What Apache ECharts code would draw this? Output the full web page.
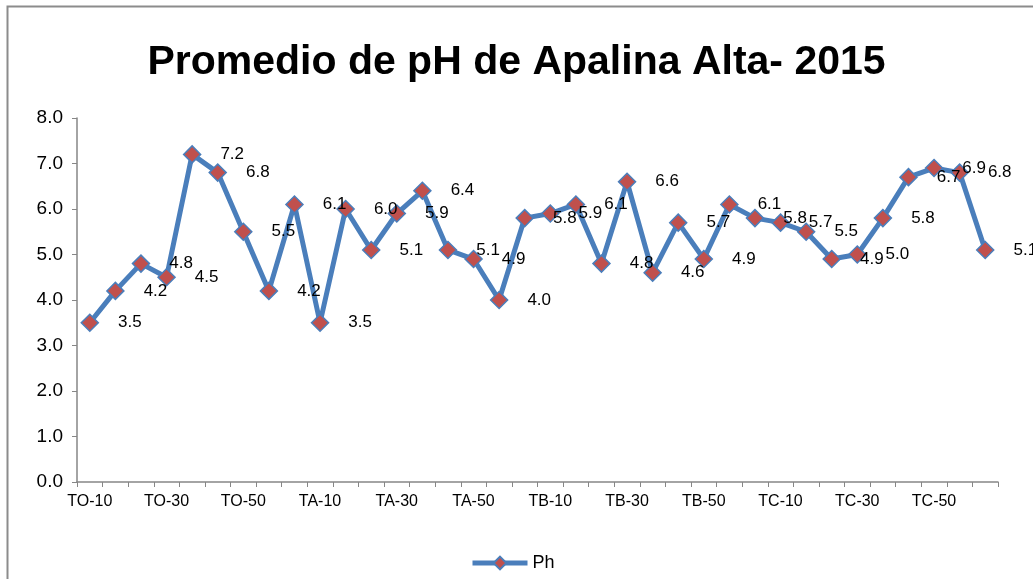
<!DOCTYPE html>
<html>
<head>
<meta charset="utf-8">
<script src="https://cdn.jsdelivr.net/npm/echarts@6/dist/echarts.min.js"></script>
<style>
  html, body { margin: 0; padding: 0; background: #fff; }
  #chart { width: 1033px; height: 579px; }
</style>
</head>
<body>
<div id="chart"></div>
<script>
// muestras (solo se ve una de cada tres etiquetas en el eje)
var categories = [
  "TO-10", "TO-15", "TO-20", "TO-30", "TO-35", "TO-40", "TO-50", "TO-55", "TO-60",
  "TA-10", "TA-15", "TA-20", "TA-30", "TA-35", "TA-40", "TA-50", "TA-55", "TA-60",
  "TB-10", "TB-15", "TB-20", "TB-30", "TB-35", "TB-40", "TB-50", "TB-55", "TB-60",
  "TC-10", "TC-15", "TC-20", "TC-30", "TC-35", "TC-40", "TC-50", "TC-55", "TC-60"
];
var phValues = [
  3.5, 4.2, 4.8, 4.5, 7.2, 6.8, 5.5, 4.2, 6.1,
  3.5, 6.0, 5.1, 5.9, 6.4, 5.1, 4.9, 4.0, 5.8,
  5.9, 6.1, 4.8, 6.6, 4.6, 5.7, 4.9, 6.1, 5.8,
  5.7, 5.5, 4.9, 5.0, 5.8, 6.7, 6.9, 6.8, 5.1
];
var yMin = 0, yMax = 8, yStep = 1;

var font = "'Liberation Sans', Arial, sans-serif";
var chart = echarts.init(document.getElementById("chart"));
var option = {
  animation: false,
  backgroundColor: "#fff",
  graphic: [{
    type: "rect",
    shape: { x: 7.5, y: 6.5, width: 1100, height: 700 },
    style: { fill: "none", stroke: "#8c8c8c", lineWidth: 2 },
    silent: true
  }],
  title: {
    text: "Promedio de pH de Apalina Alta- 2015",
    left: "center",
    top: 37,
    textStyle: { fontFamily: font, fontWeight: "bold", fontSize: 41, color: "#000" }
  },
  legend: {
    bottom: 2,
    left: 465,
    itemWidth: 55,
    itemHeight: 16,
    itemGap: 6,
    lineStyle: { width: 5, color: "#4A7EBB" },
    textStyle: { fontFamily: font, fontSize: 18, color: "#000" },
    data: ["Ph"]
  },
  grid: { left: 77, right: 35, top: 118, bottom: 97 },
  xAxis: {
    type: "category",
    data: categories,
    boundaryGap: true,
    axisLine: { lineStyle: { color: "#868686", width: 1.5 } },
    axisTick: { show: true, interval: 0, length: 5, lineStyle: { color: "#868686" } },
    axisLabel: { interval: 2, margin: 12, fontFamily: font, fontSize: 16, color: "#000" }
  },
  yAxis: {
    type: "value",
    min: yMin,
    max: yMax,
    interval: yStep,
    splitLine: { show: false },
    axisLine: { show: true, lineStyle: { color: "#868686", width: 1.5 } },
    axisTick: { show: true, length: 5, lineStyle: { color: "#868686" } },
    axisLabel: {
      margin: 14,
      fontFamily: font,
      fontSize: 19,
      color: "#000",
      formatter: function (v) { return v.toFixed(1); }
    }
  },
  series: [{
    name: "Ph",
    type: "line",
    data: phValues,
    symbol: "diamond",
    symbolSize: 17,
    lineStyle: { color: "#4A7EBB", width: 5 },
    itemStyle: { color: "#C0504D", borderColor: "#4A7EBB", borderWidth: 1.5 },
    label: {
      show: true,
      position: "right",
      distance: 19,
      fontFamily: font,
      fontSize: 17,
      color: "#000",
      formatter: function (p) { return p.value.toFixed(1); }
    }
  }]
};
chart.setOption(option);
</script>
</body>
</html>
